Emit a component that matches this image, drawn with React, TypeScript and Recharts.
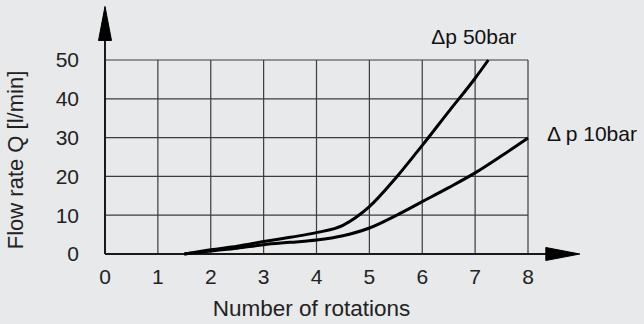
import React from 'react';
import { LineChart, Line, XAxis, YAxis, CartesianGrid, ReferenceLine } from 'recharts';

// Δp 50bar curve
const rotations50 = [1.5, 2, 2.5, 3, 3.5, 4, 4.5, 5, 5.5, 6, 6.5, 7, 7.25];
const flow50 = [0, 1.1, 2.0, 3.2, 4.3, 5.5, 7.4, 12.2, 19.6, 28.0, 36.7, 45.3, 50];

// Δp 10bar curve
const rotations10 = [1.5, 2, 2.5, 3, 3.5, 4, 4.5, 5, 5.5, 6, 6.5, 7, 7.5, 8];
const flow10 = [0, 0.8, 1.5, 2.4, 3.0, 3.6, 4.7, 6.7, 9.9, 13.5, 17.1, 20.9, 25.3, 29.9];

const xTicks = [0, 1, 2, 3, 4, 5, 6, 7, 8];
const yTicks = [0, 10, 20, 30, 40, 50];

const label50 = 'Δp 50bar';
const label10 = 'Δ p 10bar';

// where the axis arrows end (in data units)
const X_ARROW_END = 8.98;
const Y_ARROW_END = 63.8;

const FONT = '"Liberation Sans", Arial, sans-serif';
const BG = '#e8e9eb';

const rows50 = rotations50.map((x, i) => ({ x, q: flow50[i] }));
const rows10 = rotations10.map((x, i) => ({ x, q: flow10[i] }));

const Arrow = (p: any) => {
  const { x1, y1, x2, y2 } = p;
  const len = Math.hypot(x2 - x1, y2 - y1) || 1;
  const ux = (x2 - x1) / len;
  const uy = (y2 - y1) / len;
  const head = 34;
  const half = 6.5;
  const bx = x2 - ux * head;
  const by = y2 - uy * head;
  const d = `M${x2},${y2} L${bx - uy * half},${by + ux * half} L${bx + uy * half},${by - ux * half} Z`;
  return (
    <g>
      <line x1={x1} y1={y1} x2={bx + ux * 2} y2={by + uy * 2} stroke="#1a1a1a" strokeWidth={2} />
      <path d={d} fill="#000" fillOpacity={1} stroke="#000" strokeWidth={1} />
    </g>
  );
};

const endLabel = (text: string, last: number, dx: number, dy: number) => (props: any) => {
  if (props.index !== last) return null;
  return (
    <text x={props.x + dx} y={props.y + dy} fill="#111" fontSize={21} fontFamily={FONT} textAnchor="start">
      {text}
    </text>
  );
};

const YTitle = (props: any) => {
  const vb = props.viewBox;
  const x = vb.x + 23;
  const y = vb.y + vb.height / 2 + 3;
  return (
    <text x={x} y={y} transform={`rotate(-90, ${x}, ${y})`} textAnchor="middle" fill="#222" fontSize={22} fontFamily={FONT}>
      Flow rate Q [l/min]
    </text>
  );
};

const XTitle = (props: any) => {
  const vb = props.viewBox;
  return (
    <text x={vb.x + vb.width / 2 - 5} y={vb.y + 62} textAnchor="middle" fill="#222" fontSize={22.5} fontFamily={FONT}>
      Number of rotations
    </text>
  );
};

const App: React.FC = () => {
  return (
    <div style={{ position: 'absolute', left: 0, top: 0, width: 644, height: 324, background: BG }}>
      <LineChart width={644} height={324} margin={{ top: 60, right: 116, bottom: 8, left: 0 }} style={{ fontFamily: FONT }}>
        <CartesianGrid stroke="#3c3c3c" strokeWidth={1.2} />
        <XAxis
          type="number"
          dataKey="x"
          domain={[0, 8]}
          ticks={xTicks}
          interval={0}
          height={62}
          axisLine={false}
          tickLine={false}
          tickSize={0}
          tickMargin={15}
          tick={{ fill: '#222', fontSize: 21, fontFamily: FONT }}
          label={{ content: XTitle }}
          allowDuplicatedCategory={false}
        />
        <YAxis
          type="number"
          domain={[0, 50]}
          ticks={yTicks}
          interval={0}
          width={105}
          axisLine={false}
          tickLine={false}
          tickSize={0}
          tickMargin={26}
          tick={{ fill: '#222', fontSize: 21, fontFamily: FONT }}
          label={{ content: YTitle }}
        />
        <ReferenceLine segment={[{ x: 0, y: 0 }, { x: X_ARROW_END, y: 0 }]} ifOverflow="visible" shape={Arrow} />
        <ReferenceLine segment={[{ x: 0, y: 0 }, { x: 0, y: Y_ARROW_END }]} ifOverflow="visible" shape={Arrow} />
        <Line
          data={rows50}
          dataKey="q"
          type="monotone"
          stroke="#000"
          strokeWidth={3}
          dot={false}
          activeDot={false}
          isAnimationActive={false}
          label={endLabel(label50, rows50.length - 1, -57, -16)}
        />
        <Line
          data={rows10}
          dataKey="q"
          type="monotone"
          stroke="#000"
          strokeWidth={3}
          dot={false}
          activeDot={false}
          isAnimationActive={false}
          label={endLabel(label10, rows10.length - 1, 19, 3)}
        />
      </LineChart>
    </div>
  );
};

export default App;
